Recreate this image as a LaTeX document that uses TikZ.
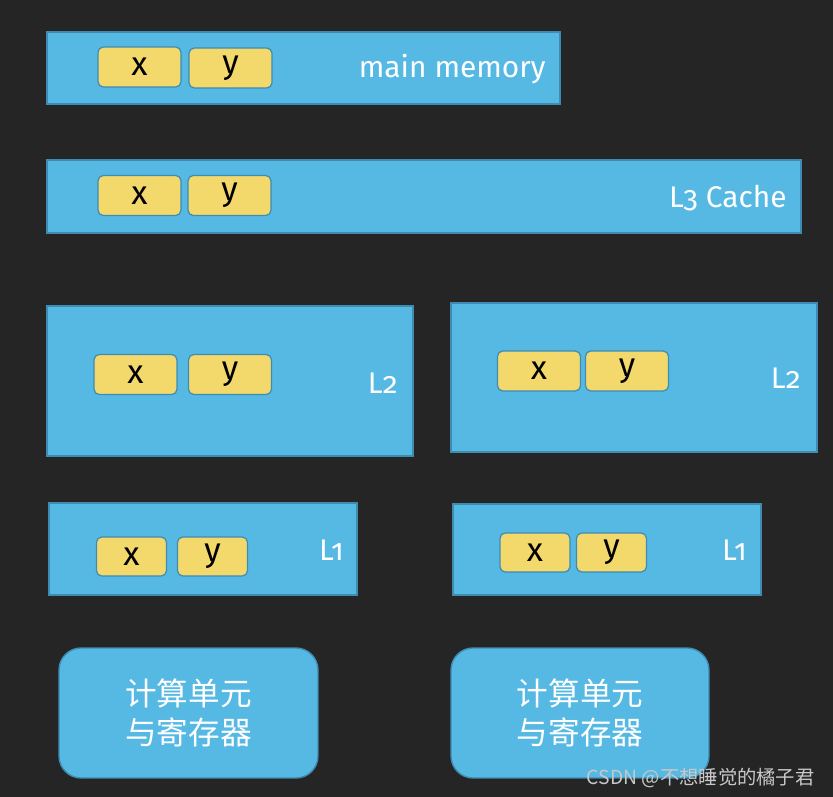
\documentclass[tikz,border=0pt]{standalone}
\usepackage{fontspec}
\setmainfont{Fira Sans}[Numbers=OldStyle]
\newfontfamily\cjk{Noto Sans CJK SC}
\usepackage{tikz}

\definecolor{board}{HTML}{252525}
\definecolor{cacheblue}{HTML}{55B9E4}
\definecolor{cacheline}{HTML}{3F8CB2}
\definecolor{valyellow}{HTML}{F3D86B}
\definecolor{markgray}{HTML}{C8C8C8}

\begin{document}
\begin{tikzpicture}[x=0.02cm, y=-0.02cm,
    membox/.style={rectangle, fill=cacheblue, draw=cacheline, line width=0.8pt, inner sep=0pt},
    valbox/.style={rectangle, rounded corners=3pt, fill=valyellow, draw=cacheline, line width=0.7pt,
      inner sep=0pt, minimum width=1.66cm, minimum height=0.8cm, font=\fontsize{19}{22}\selectfont},
    smallval/.style={valbox, minimum width=1.4cm, minimum height=0.78cm},
    cpubox/.style={membox, rounded corners=0.44cm, minimum height=2.6cm, text=white,
      align=center, font=\cjk\fontsize{18}{22.5}\selectfont},
    lvl/.style={anchor=east, text=white, inner sep=0pt, font=\fontsize{17}{22}\selectfont}]
  \fill[board] (0,0) rectangle (833,797);
  % main memory and L3
  \node[membox, minimum width=10.26cm, minimum height=1.44cm] (mem) at (303.5,68) {};
  \node[membox, minimum width=15.08cm, minimum height=1.46cm] (l3) at (424,196.5) {};
  % L2
  \node[membox, minimum width=7.32cm, minimum height=3.0cm] (l2a) at (230,381) {};
  \node[membox, minimum width=7.32cm, minimum height=2.98cm] (l2b) at (634,377.5) {};
  % L1
  \node[membox, minimum width=6.16cm, minimum height=1.84cm] (l1a) at (203,549) {};
  \node[membox, minimum width=6.16cm, minimum height=1.82cm] (l1b) at (607,549.5) {};
  % compute units
  \node[cpubox, minimum width=5.18cm] (cpua) at (188.5,713) {计算单元\\与寄存器};
  \node[cpubox, minimum width=5.16cm] (cpub) at (580,713) {计算单元\\与寄存器};

  % values
  \node[valbox] (memx) at (139.5,67) {x};
  \node[valbox] (memy) at (230.5,68) {y};
  \node[valbox] (l3x) at (139.5,195.5) {x};
  \node[valbox] (l3y) at (229.5,195.5) {y};
  \node[valbox] (l2ax) at (135.5,374.5) {x};
  \node[valbox] (l2ay) at (230,374.5) {y};
  \node[valbox] (l2bx) at (539,371) {x};
  \node[valbox] (l2by) at (627,371) {y};
  \node[smallval] (l1ax) at (131.5,556.5) {x};
  \node[smallval] (l1ay) at (212.5,556.5) {y};
  \node[smallval] (l1bx) at (535,552.5) {x};
  \node[smallval] (l1by) at (611.5,552.5) {y};

  % level names
  \node[lvl] (memname) at (546,69) {main memory};
  \node[lvl] (l3name) at (787,198) {L3 Cache};
  \node[lvl] (l2aname) at (398,383) {L2};
  \node[lvl] (l2bname) at (801,378) {L2};
  \node[lvl] (l1aname) at (344,550) {L1};
  \node[lvl] (l1bname) at (747,550) {L1};

  \node[anchor=east, text=markgray, inner sep=0pt, font=\cjk\fontsize{11}{13}\selectfont]
    (mark) at (815,778) {CSDN @不想睡觉的橘子君};
\end{tikzpicture}
\end{document}
